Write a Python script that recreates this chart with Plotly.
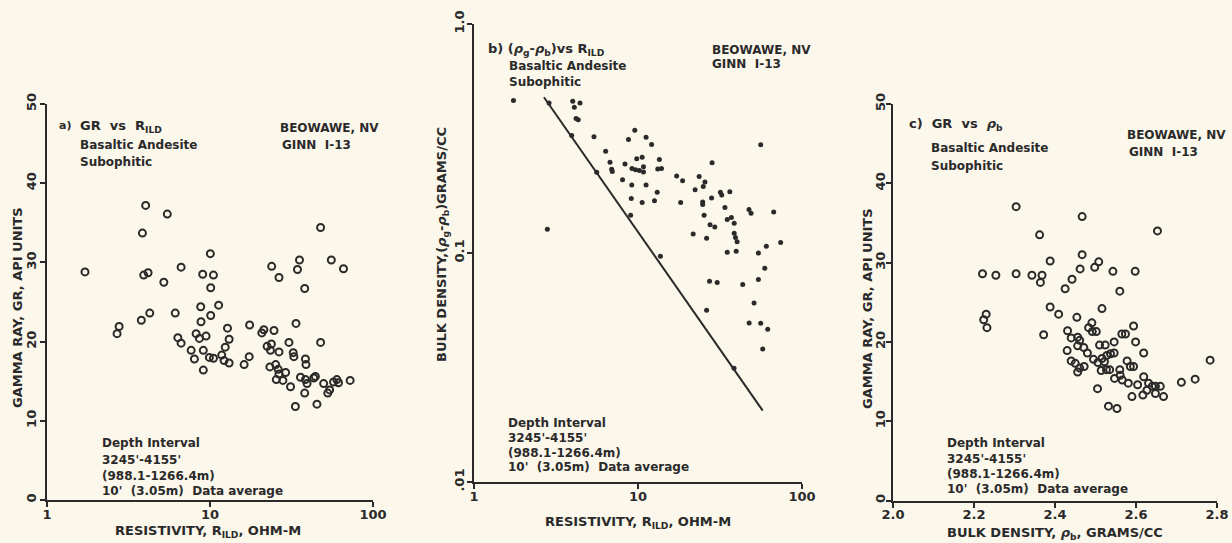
import plotly.graph_objects as go

# ---------------- data ----------------
# Panel a: GR vs R_ILD
a_res = [1.71, 4.03, 5.47, 3.85, 10.05, 3.92, 4.17, 6.65, 5.21, 9.02, 10.5, 10.1,
         2.77, 2.69, 3.79, 4.27, 6.12, 8.77, 11.3, 8.81, 10.1, 6.35, 6.65, 8.22,
         8.61, 9.46, 7.66, 8.02, 9.10, 9.91, 10.5, 11.8, 12.2, 13.1, 9.10, 12.8,
         13.1, 12.4, 17.5, 16.2, 17.4, 20.8, 21.4, 24.7, 23.9, 26.5, 35.4, 34.4,
         38.1, 33.7, 47.7, 55.5, 65.9, 47.7, 22.4, 23.8, 23.5, 26.5, 30.5, 32.4,
         32.7, 38.5, 38.8, 23.3, 25.3, 26.2, 26.5, 29.1, 25.5, 28.0, 31.2, 35.9,
         38.5, 39.4, 43.3, 44.3, 49.8, 57.3, 60.0, 61.4, 54.2, 52.8, 72.4, 38.1,
         33.4, 45.3]
a_gr = [28.8, 37.2, 36.1, 33.7, 31.1, 28.4, 28.7, 29.4, 27.5, 28.5, 28.4, 26.8,
        21.9, 21.0, 22.7, 23.6, 23.6, 24.4, 24.6, 22.5, 23.3, 20.5, 19.8, 21.0,
        20.4, 20.7, 18.9, 17.8, 18.9, 18.0, 17.9, 18.3, 17.6, 17.3, 16.4, 21.7,
        20.3, 19.3, 22.1, 17.1, 18.1, 21.1, 21.5, 21.4, 29.5, 28.1, 30.3, 29.1,
        26.7, 22.3, 34.4, 30.3, 29.2, 19.9, 19.4, 19.7, 18.9, 18.7, 19.9, 18.6,
        18.1, 17.8, 17.1, 16.8, 17.1, 16.5, 15.9, 16.1, 15.2, 15.1, 14.3, 15.5,
        15.2, 14.7, 15.4, 15.6, 14.7, 14.9, 15.2, 14.8, 13.9, 13.5, 15.1, 13.5,
        11.8, 12.1]

# Panel b: (rho_g - rho_b) vs R_ILD
b_res = [1.74, 2.80, 4.00, 4.43, 4.09, 4.19, 4.32, 5.39, 6.35, 6.75, 6.91, 6.97,
         8.05, 8.75, 9.56, 11.2, 12.1, 8.33, 9.82, 10.6, 9.19, 9.66, 10.2, 10.8,
         10.8, 13.5, 13.2, 13.9, 9.16, 11.2, 9.10, 10.6, 12.6, 13.1, 18.2, 17.2,
         18.7, 23.6, 25.6, 25.0, 22.3, 28.3, 24.8, 24.8, 28.1, 31.8, 32.4, 36.3,
         33.9, 25.3, 27.5, 29.4, 21.7, 26.2, 35.0, 37.1, 38.6, 38.6, 39.3, 40.2,
         35.0, 39.7, 47.5, 48.9, 56.0, 67.2, 74.1, 60.6, 54.2, 59.3, 27.3, 30.4,
         43.5, 54.2, 51.0, 26.2, 47.6, 56.0, 61.8, 57.6,
         2.87, 3.94, 5.60, 9.02, 13.7, 38.5]
b_dens = [0.463, 0.127, 0.460, 0.452, 0.433, 0.387, 0.382, 0.322, 0.278, 0.249,
          0.232, 0.227, 0.209, 0.313, 0.344, 0.320, 0.298, 0.245, 0.258, 0.262,
          0.234, 0.231, 0.229, 0.238, 0.226, 0.256, 0.233, 0.234, 0.198, 0.198,
          0.173, 0.166, 0.169, 0.184, 0.166, 0.217, 0.207, 0.216, 0.204, 0.195,
          0.189, 0.248, 0.167, 0.163, 0.174, 0.184, 0.179, 0.185, 0.158, 0.146,
          0.133, 0.130, 0.121, 0.116, 0.140, 0.143, 0.135, 0.122, 0.117, 0.112,
          0.1007, 0.1017, 0.155, 0.149, 0.297, 0.151, 0.111, 0.107, 0.100, 0.0858,
          0.0752, 0.0743, 0.0728, 0.0766, 0.0605, 0.0562, 0.0495, 0.0494, 0.0465,
          0.0381,
          0.452, 0.326, 0.225, 0.146, 0.0968, 0.0314]
b_line_res = [2.67, 57.6]
b_line_dens = [0.479, 0.0205]

# Panel c: GR vs rho_b
c_dens = [2.304, 2.467, 2.653, 2.362, 2.467, 2.388, 2.508, 2.498, 2.462, 2.543,
          2.598, 2.221, 2.254, 2.304, 2.343, 2.368, 2.364, 2.442, 2.425, 2.560,
          2.388, 2.409, 2.454, 2.516, 2.230, 2.224, 2.232, 2.372, 2.431, 2.491,
          2.483, 2.492, 2.502, 2.594, 2.565, 2.574, 2.599, 2.440, 2.456, 2.461,
          2.456, 2.471, 2.480, 2.430, 2.440, 2.450, 2.461, 2.456, 2.472, 2.495,
          2.506, 2.516, 2.510, 2.524, 2.546, 2.528, 2.537, 2.546, 2.522, 2.514,
          2.527, 2.535, 2.619, 2.578, 2.586, 2.594, 2.560, 2.561, 2.619, 2.631,
          2.640, 2.648, 2.660, 2.712, 2.746, 2.783, 2.590, 2.617, 2.648, 2.668,
          2.505, 2.532, 2.553, 2.547, 2.566, 2.581, 2.604, 2.627]
c_gr = [37.05, 35.8, 34.0, 33.5, 31.0, 30.2, 30.1, 29.4, 29.2, 28.9,
        28.9, 28.6, 28.4, 28.6, 28.4, 28.4, 27.5, 27.9, 26.7, 26.4,
        24.4, 23.5, 23.1, 24.2, 23.5, 22.8, 21.8, 20.9, 21.4, 22.4,
        21.8, 21.3, 21.3, 22.0, 21.0, 21.0, 20.0, 20.5, 20.6, 20.2,
        19.5, 19.3, 18.6, 18.9, 17.6, 17.3, 16.7, 16.2, 16.9, 17.8,
        17.4, 17.9, 19.6, 19.6, 20.0, 18.3, 18.5, 18.6, 17.5, 16.4,
        16.5, 16.5, 18.6, 17.6, 16.9, 16.9, 16.5, 15.8, 15.6, 14.8,
        14.4, 14.4, 14.4, 14.9, 15.3, 17.7, 13.1, 13.3, 13.5, 13.1,
        14.1, 11.9, 11.6, 15.4, 15.2, 14.8, 14.6, 13.9]

gr_ticks = [0, 10, 20, 30, 40, 50]
res_ticks = [1, 10, 100]
res_ticktext = ["1", "10", "100"]
dens_b_ticks = [0.01, 0.1, 1.0]
dens_b_ticktext = [".01", "0.1", "1.0"]
rhob_ticks = [2.0, 2.2, 2.4, 2.6, 2.8]
rhob_ticktext = ["2.0", "2.2", "2.4", "2.6", "2.8"]

# ---------------- styling ----------------
W, H = 1232, 543
BG = "#FBF7EA"
INK = "#2a2a2a"
FONT = "DejaVu Sans"


def fx(px):
    return px / W


def fy(py):
    return 1 - py / H


fig = go.Figure()

open_marker = dict(symbol="circle-open", size=7, color=INK, line=dict(width=2, color=INK))
fig.add_trace(go.Scatter(x=a_res, y=a_gr, mode="markers", marker=open_marker,
                         xaxis="x", yaxis="y", showlegend=False))
fig.add_trace(go.Scatter(x=b_line_res, y=b_line_dens, mode="lines",
                         line=dict(color=INK, width=2), xaxis="x2", yaxis="y2",
                         showlegend=False))
fig.add_trace(go.Scatter(x=b_res, y=b_dens, mode="markers",
                         marker=dict(symbol="circle", size=5, color=INK),
                         xaxis="x2", yaxis="y2", showlegend=False))
fig.add_trace(go.Scatter(x=c_dens, y=c_gr, mode="markers", marker=open_marker,
                         xaxis="x3", yaxis="y3", showlegend=False))

tickfont = dict(family=FONT, size=13, color=INK, weight="bold")
common = dict(showline=True, linecolor=INK, linewidth=2, ticks="outside",
              ticklen=5, tickwidth=2, tickcolor=INK, showgrid=False,
              zeroline=False, tickfont=tickfont)

layout = dict(
    width=W, height=H, paper_bgcolor=BG, plot_bgcolor=BG,
    margin=dict(l=0, r=0, t=0, b=0, autoexpand=False), showlegend=False,
    font=dict(family=FONT, color=INK),
    xaxis=dict(domain=[fx(47), fx(373)], type="log", range=[0, 2],
               tickvals=res_ticks, ticktext=res_ticktext, anchor="y",
               ticklabelstandoff=-4, **common),
    yaxis=dict(domain=[fy(500), fy(104)], range=[0, 50], tickvals=gr_ticks,
               tickangle=-90, anchor="x", ticklabelstandoff=-1, **common),
    xaxis2=dict(domain=[fx(474), fx(802)], type="log", range=[0, 2],
                tickvals=res_ticks, ticktext=res_ticktext, anchor="y2",
                ticklabelstandoff=-4, **common),
    yaxis2=dict(domain=[fy(482), fy(24)], type="log", range=[-2, 0],
                tickvals=dens_b_ticks, ticktext=dens_b_ticktext,
                tickangle=-90, anchor="x2", ticklabelstandoff=-2, **common),
    xaxis3=dict(domain=[fx(893), fx(1217)], range=[2.0, 2.8],
                tickvals=rhob_ticks, ticktext=rhob_ticktext, anchor="y3",
                ticklabelstandoff=-4, **common),
    yaxis3=dict(domain=[fy(500.5), fy(104)], range=[0, 50], tickvals=gr_ticks,
                tickangle=-90, anchor="x3", ticklabelstandoff=-4, **common),
)
fig.update_layout(**layout)

ann = []


def text(px, py, s, size=13, angle=0, xanchor="left"):
    ann.append(dict(x=fx(px), y=fy(py), xref="paper", yref="paper", text=s,
                    showarrow=False, xanchor=xanchor, yanchor="middle",
                    textangle=angle,
                    font=dict(family=FONT, size=size, color=INK, weight="bold")))


RHO = "<i>ρ</i>"

# axis titles
text(17, 308, "GAMMA RAY, GR, API UNITS", angle=-90, xanchor="center")
text(208, 531, "RESISTIVITY, R<sub>ILD</sub>, OHM-M", xanchor="center")
text(442, 245, "BULK DENSITY,(" + RHO + "<sub>g</sub>-" + RHO + "<sub>b</sub>)GRAMS/CC",
     angle=-90, xanchor="center")
text(638, 522, "RESISTIVITY, R<sub>ILD</sub>, OHM-M", xanchor="center")
text(867, 309, "GAMMA RAY, GR, API UNITS", angle=-90, xanchor="center")
text(1055, 533, "BULK DENSITY, " + RHO + "<sub>b</sub>, GRAMS/CC", xanchor="center")

# panel a texts
text(57, 126, "a)", size=11)
text(78, 127, "GR  vs  R<sub>ILD</sub>")
text(78, 145, "Basaltic Andesite", size=12)
text(78, 162, "Subophitic", size=12)
text(278, 128, "BEOWAWE, NV", size=12)
text(280, 145, "GINN  I-13", size=12)
text(100, 443, "Depth Interval", size=12)
text(100, 460, "3245'-4155'", size=12)
text(100, 476, "(988.1-1266.4m)", size=12)
text(100, 491, "10'  (3.05m)  Data average", size=12)

# panel b texts
text(486, 50, "b) (" + RHO + "<sub>g</sub>-" + RHO + "<sub>b</sub>)vs R<sub>ILD</sub>")
text(507, 66, "Basaltic Andesite", size=12)
text(507, 82, "Subophitic", size=12)
text(710, 50, "BEOWAWE, NV", size=12)
text(710, 64, "GINN  I-13", size=12)
text(506, 423, "Depth Interval", size=12)
text(506, 438, "3245'-4155'", size=12)
text(506, 453, "(988.1-1266.4m)", size=12)
text(506, 467, "10'  (3.05m)  Data average", size=12)

# panel c texts
text(907, 125, "c)  GR  vs  " + RHO + "<sub>b</sub>")
text(929, 148, "Basaltic Andesite", size=12)
text(929, 166, "Subophitic", size=12)
text(1125, 135, "BEOWAWE, NV", size=12)
text(1127, 152, "GINN  I-13", size=12)
text(945, 443, "Depth Interval", size=12)
text(945, 459, "3245'-4155'", size=12)
text(945, 474, "(988.1-1266.4m)", size=12)
text(945, 489, "10'  (3.05m)  Data average", size=12)

fig.update_layout(annotations=ann)
fig.write_html("out.html", config={"displayModeBar": False},
               post_script="document.body.style.margin='0';"
                           "document.body.style.background='" + BG + "';")
